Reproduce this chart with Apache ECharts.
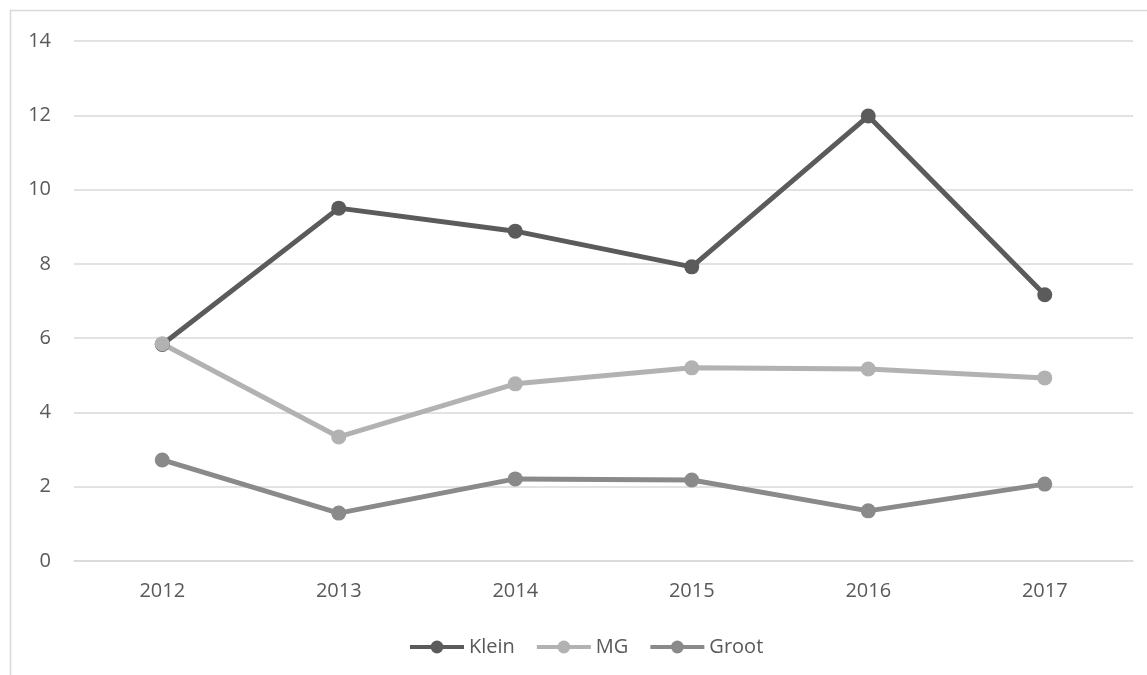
<!DOCTYPE html>
<html>
<head>
<meta charset="utf-8">
<script src="https://cdn.jsdelivr.net/npm/echarts@6/dist/echarts.min.js"></script>
<style>
  html, body { margin: 0; padding: 0; background: #fff; }
  #chart { width: 1147px; height: 675px; }
</style>
</head>
<body>
<div id="chart"></div>
<script>
const years = ['2012', '2013', '2014', '2015', '2016', '2017'];
const klein = [5.83, 9.5, 8.88, 7.92, 11.98, 7.17];
const mg = [5.85, 3.34, 4.77, 5.2, 5.17, 4.93];
const groot = [2.72, 1.29, 2.21, 2.18, 1.35, 2.07];

const chart = echarts.init(document.getElementById('chart'), null, { renderer: 'canvas' });

function line(name, data, color) {
  return {
    name: name,
    type: 'line',
    data: data,
    symbol: 'circle',
    symbolSize: 15,
    lineStyle: { color: color, width: 5 },
    itemStyle: { color: color },
    emphasis: { disabled: true },
    animation: false
  };
}

const option = {
  animation: false,
  textStyle: { fontFamily: '"Open Sans", "DejaVu Sans", sans-serif' },
  graphic: [{
    type: 'rect',
    shape: { x: 10.5, y: 10.5, width: 1200, height: 700 },
    style: { fill: 'none', stroke: '#d9d9d9', lineWidth: 1.5 },
    silent: true
  }],
  grid: { left: 74, right: 14, top: 41, bottom: 114 },
  legend: {
    top: 632,
    left: 403,
    itemWidth: 54,
    itemHeight: 16,
    itemGap: 20,
    lineStyle: { width: 4 },
    textStyle: { color: '#595959', fontSize: 20 },
    data: ['Klein', 'MG', 'Groot']
  },
  xAxis: {
    type: 'category',
    data: years,
    axisLine: { show: true, lineStyle: { color: '#d9d9d9', width: 1.5 } },
    axisTick: { show: false },
    axisLabel: { color: '#595959', fontSize: 20, margin: 20 }
  },
  yAxis: {
    type: 'value',
    min: 0,
    max: 14,
    interval: 2,
    axisLine: { show: false },
    axisTick: { show: false },
    splitLine: { lineStyle: { color: '#d9d9d9', width: 1.5 } },
    axisLabel: { color: '#595959', fontSize: 20, margin: 23 }
  },
  series: [
    line('Klein', klein, '#5b5b5b'),
    line('MG', mg, '#b2b2b2'),
    line('Groot', groot, '#8a8a8a')
  ]
};

chart.setOption(option);
</script>
</body>
</html>
